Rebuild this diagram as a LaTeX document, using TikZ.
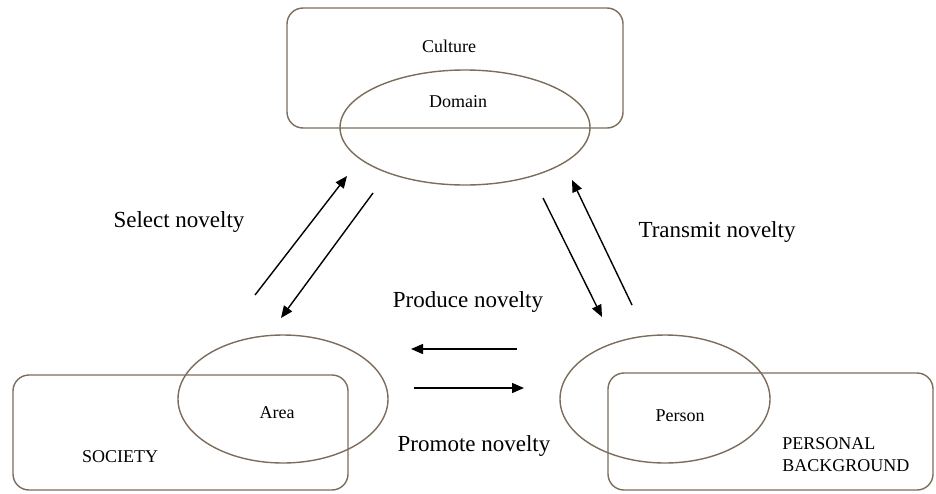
\documentclass[tikz,border=0pt]{standalone}
\usepackage{fontspec}
\setmainfont{Liberation Serif}
\usetikzlibrary{shapes.geometric, arrows.meta, positioning}

\begin{document}
\begin{tikzpicture}[x=0.5pt,y=-0.5pt,
        frame/.style={draw=black!65!brown!70,line width=0.7pt,rounded corners=8pt,inner sep=0pt,outer sep=0pt},
        ring/.style={draw=black!65!brown!70,line width=0.7pt,ellipse,inner sep=0pt,outer sep=0pt},
        small/.style={font=\fontsize{9}{10.5}\selectfont,inner sep=1pt},
        big/.style={font=\fontsize{11.5}{13}\selectfont,inner sep=1pt},
        flow/.style={-{Triangle[length=6pt,width=5pt]},line width=0.7pt}]
        \useasboundingbox (0,0) rectangle (936,493);
        % Top box
        \node[frame,minimum width=168pt,minimum height=60pt] (culture) at (455,68) {};
        \node[ring,minimum width=125pt,minimum height=57.5pt] (domain) at (465,127.5) {};
        \node[small] (culturetxt) at (449,46) {Culture};
        \node[small] (domaintxt) at (458,102) {Domain};
        % Left box
        \node[frame,minimum width=167.5pt,minimum height=57.5pt] (society) at (180.5,432.5) {};
        \node[ring,minimum width=105pt,minimum height=64pt] (area) at (283,399) {};
        \node[small] (areatxt) at (277,413) {Area};
        \node[small] (societytxt) at (120,457) {SOCIETY};
        % Right box
        \node[frame,minimum width=162.5pt,minimum height=58.5pt] (background) at (770.5,431.5) {};
        \node[ring,minimum width=105pt,minimum height=64pt] (person) at (665,399) {};
        \node[small] (persontxt) at (680,416) {Person};
        \node[small,align=left,anchor=west,font=\fontsize{9}{11}\selectfont] (backgroundtxt) at (780,455) {PERSONAL\\BACKGROUND};
        % Arrow ends
        \coordinate (sa) at (255,295); \coordinate (sb) at (347,176);
        \coordinate (sc) at (373,193); \coordinate (sd) at (281,318);
        \coordinate (ta) at (543,198); \coordinate (tb) at (602,317);
        \coordinate (tc) at (632,305); \coordinate (td) at (572,180);
        \coordinate (pa) at (517,349); \coordinate (pb) at (411,349);
        \coordinate (pc) at (414,388); \coordinate (pd) at (524,388);
        \draw[flow] (sa) -- (sb);
        \draw[flow] (sc) -- (sd);
        \draw[flow] (ta) -- (tb);
        \draw[flow] (tc) -- (td);
        \draw[flow] (pa) -- (pb);
        \draw[flow] (pc) -- (pd);
        % Labels
        \node[big] (select) at (179,222) {Select novelty};
        \node[big] (transmit) at (717,232) {Transmit novelty};
        \node[big] (produce) at (468,302) {Produce novelty};
        \node[big] (promote) at (474,446) {Promote novelty};
\end{tikzpicture}
\end{document}
